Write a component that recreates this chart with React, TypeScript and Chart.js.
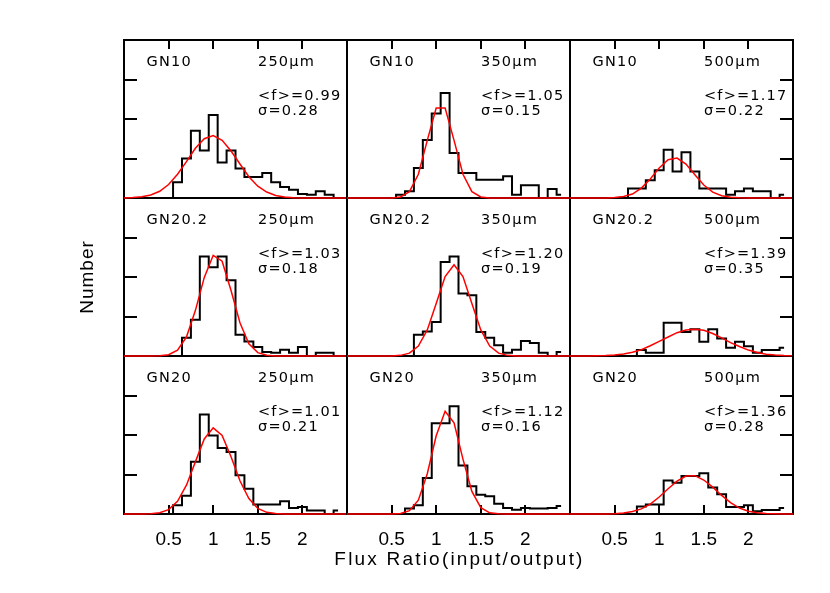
import React, { useEffect, useRef } from 'react';
import { Chart, registerables } from 'chart.js';

Chart.register(...registerables);

// ---------- data ----------
const XS = [0.0, 0.1, 0.2, 0.3, 0.4, 0.5, 0.6, 0.7, 0.8, 0.9, 1.0, 1.1, 1.2, 1.3, 1.4, 1.5, 1.6, 1.7, 1.8, 1.9, 2.0, 2.1, 2.2, 2.3, 2.4, 2.5];
const X_TICKS = [0.5, 1, 1.5, 2];
const Y_TICKS = [10, 20, 30];
const X_MIN = 0;
const X_MAX = 2.5;
const Y_MAX = 40;

const FIELDS = ['GN10', 'GN20.2', 'GN20'];
const BANDS = ['250μm', '350μm', '500μm'];
const MEANS = [
  [0.99, 1.05, 1.17],
  [1.03, 1.2, 1.39],
  [1.01, 1.12, 1.36],
];
const SIGMAS = [
  [0.28, 0.15, 0.22],
  [0.18, 0.19, 0.35],
  [0.21, 0.16, 0.28],
];

// histograms (counts at bin centres XS)
const H_GN10_250 = [0, 0, 0, 0, 0, 0, 4, 10, 17, 12, 21, 9, 12, 7.5, 5.3, 5.3, 6.3, 4, 2.8, 2.1, 1.0, 0.8, 1.7, 0.8, 0, null];
const H_GN10_350 = [0, 0, 0, 0, 0, 0, 0.8, 1.7, 7.6, 14.7, 21.4, 26.6, 11.4, 6.3, 6.3, 4.6, 4.6, 4.6, 5.5, 0.8, 3.2, 3.2, 0, 2.3, 0.8, null];
const H_GN10_500 = [0, 0, 0, 0, 0, 0, 0, 2.4, 2.4, 4.5, 7.0, 12.2, 6.7, 11.6, 6.7, 2.4, 2.4, 2.4, 0.8, 1.7, 2.4, 1.7, 1.7, 0, 0.8, null];
const H_GN202_250 = [0, 0, 0, 0, 0, 0, 0, 4.6, 9.2, 25.2, 22.5, 25.2, 19.2, 5.4, 3.7, 2.3, 1.0, 0.8, 1.6, 0.8, 2.3, 0, 0.8, 0.8, 0, null];
const H_GN202_350 = [0, 0, 0, 0, 0, 0, 0, 0, 5.4, 6.2, 8.6, 23.8, 25.2, 15.8, 15.4, 6.1, 4.6, 2.7, 0.8, 1.6, 3.8, 3.3, 0.8, 0, 1.0, null];
const H_GN202_500 = [0, 0, 0, 0, 0, 0, 0, 0, 1.5, 0.8, 0.8, 8.4, 8.4, 6.1, 6.8, 3.6, 6.8, 4.4, 2.1, 3.6, 2.5, 0.8, 1.5, 1.5, 2.1, null];
const H_GN20_250 = [0, 0, 0, 0, 0, 0, 2.2, 4.6, 13.2, 25.2, 19.9, 16.7, 15.7, 9.8, 6.4, 2.4, 2.4, 2.4, 3.2, 1.5, 1.8, 0.9, 0.9, 0, 0.9, null];
const H_GN20_350 = [0, 0, 0, 0, 0, 0, 0, 1.4, 2.2, 9.1, 23.0, 23.0, 27.3, 12.3, 7.0, 4.9, 4.5, 2.6, 1.5, 1.1, 1.5, 1.4, 1.4, 1.5, 2.0, null];
const H_GN20_500 = [0, 0, 0, 0, 0, 0, 0, 0, 1.9, 2.4, 2.4, 8.5, 7.9, 9.6, 9.6, 10.3, 6.7, 5.0, 1.8, 1.8, 2.2, 0.7, 1.0, 1.0, 1.5, null];

// gaussian fit curves (values read at XS)
const F_GN10_250 = [0.03, 0.1, 0.3, 0.76, 1.7, 3.4, 6.0, 9.2, 12.6, 15.0, 15.8, 14.6, 11.9, 8.6, 5.4, 3.0, 1.5, 0.64, 0.24, 0.08, 0.02, 0, 0, 0, 0, 0];
const F_GN10_350 = [0, 0, 0, 0, 0, 0.03, 0.27, 1.6, 6.0, 14.6, 22.8, 22.8, 14.6, 6.0, 1.6, 0.27, 0.03, 0, 0, 0, 0, 0, 0, 0, 0, 0];
const F_GN10_500 = [0, 0, 0, 0, 0, 0.1, 0.36, 1.0, 2.5, 4.8, 7.6, 9.7, 10.1, 8.6, 5.9, 3.3, 1.5, 0.56, 0.17, 0.04, 0, 0, 0, 0, 0, 0];
const F_GN202_250 = [0, 0, 0, 0, 0.06, 0.34, 1.5, 4.8, 11.5, 19.9, 25.5, 24.0, 16.6, 8.4, 3.1, 0.86, 0.17, 0.03, 0, 0, 0, 0, 0, 0, 0, 0];
const F_GN202_350 = [0, 0, 0, 0, 0, 0.03, 0.16, 0.72, 2.5, 6.6, 13.3, 20.1, 23.1, 20.1, 13.3, 6.6, 2.5, 0.72, 0.16, 0.03, 0, 0, 0, 0, 0, 0];
const F_GN202_500 = [0, 0.01, 0.02, 0.05, 0.12, 0.27, 0.53, 0.97, 1.6, 2.6, 3.7, 4.8, 5.9, 6.6, 6.8, 6.5, 5.7, 4.6, 3.4, 2.4, 1.5, 0.87, 0.47, 0.23, 0.11, 0.04];
const F_GN20_250 = [0, 0, 0.01, 0.07, 0.32, 1.1, 3.2, 7.3, 13.2, 19.0, 21.8, 19.9, 14.5, 8.4, 3.9, 1.4, 0.42, 0.1, 0.02, 0, 0, 0, 0, 0, 0, 0];
const F_GN20_350 = [0, 0, 0, 0, 0, 0.02, 0.13, 0.84, 3.5, 10.2, 19.8, 26.0, 23.1, 13.9, 5.7, 1.6, 0.29, 0.04, 0, 0, 0, 0, 0, 0, 0, 0];
const F_GN20_500 = [0, 0, 0, 0, 0.03, 0.09, 0.25, 0.61, 1.3, 2.5, 4.3, 6.4, 8.3, 9.6, 9.7, 8.6, 6.8, 4.7, 2.9, 1.5, 0.72, 0.3, 0.11, 0.04, 0.01, 0];

const HISTS = [H_GN10_250, H_GN10_350, H_GN10_500, H_GN202_250, H_GN202_350, H_GN202_500, H_GN20_250, H_GN20_350, H_GN20_500];
const FITS = [F_GN10_250, F_GN10_350, F_GN10_500, F_GN202_250, F_GN202_350, F_GN202_500, F_GN20_250, F_GN20_350, F_GN20_500];

const X_TITLE = 'Flux Ratio(input/output)';
const Y_TITLE = 'Number';

// ---------- layout ----------
const COL_LEFT = [124, 347, 570];
const ROW_TOP = [40, 198, 356];
const PW = 223;
const PH = 158;
const M = 60;
const AXIS_H = 40;

function Panel({ row, col }: { row: number; col: number }) {
  const ref = useRef<HTMLCanvasElement>(null);

  useEffect(() => {
    const canvas = ref.current;
    if (!canvas) return;
    const idx = row * 3 + col;
    const hist = HISTS[idx];
    const fit = FITS[idx];
    const bottomRow = row === 2;

    const decor = {
      id: 'decor',
      beforeDatasetsDraw(chart: any) {
        const { ctx, chartArea: a } = chart;
        const xs = chart.scales.x;
        const ys = chart.scales.y;
        ctx.save();
        ctx.strokeStyle = '#000';
        ctx.lineWidth = 2;
        ctx.lineCap = 'butt';
        ctx.beginPath();
        // left + bottom always
        ctx.moveTo(a.left, a.top + (row === 0 ? -1 : 1));
        ctx.lineTo(a.left, a.bottom + 1);
        ctx.moveTo(a.left - 1, a.bottom);
        ctx.lineTo(a.right + 1, a.bottom);
        if (row === 0) {
          ctx.moveTo(a.left - 1, a.top);
          ctx.lineTo(a.right + 1, a.top);
        }
        if (col === 2) {
          ctx.moveTo(a.right, a.top - 1);
          ctx.lineTo(a.right, a.bottom + 1);
        }
        // inward ticks on the outer frame
        if (row === 0) {
          X_TICKS.forEach((v) => {
            const px = Math.round(xs.getPixelForValue(v));
            ctx.moveTo(px, a.top);
            ctx.lineTo(px, a.top + 9);
          });
        }
        if (row === 2) {
          X_TICKS.forEach((v) => {
            const px = Math.round(xs.getPixelForValue(v));
            ctx.moveTo(px, a.bottom);
            ctx.lineTo(px, a.bottom - 9);
          });
        }
        if (col === 0) {
          Y_TICKS.forEach((v) => {
            const py = Math.round(ys.getPixelForValue(v));
            ctx.moveTo(a.left, py);
            ctx.lineTo(a.left + 13, py);
          });
        }
        if (col === 2) {
          Y_TICKS.forEach((v) => {
            const py = Math.round(ys.getPixelForValue(v));
            ctx.moveTo(a.right, py);
            ctx.lineTo(a.right - 13, py);
          });
        }
        ctx.stroke();
        ctx.restore();
      },
      afterDraw(chart: any) {
        const { ctx, chartArea: a } = chart;
        ctx.save();
        ctx.fillStyle = '#000';
        ctx.font = '14.5px "DejaVu Sans", sans-serif';
        ctx.letterSpacing = '1.2px';
        ctx.textAlign = 'left';
        ctx.textBaseline = 'alphabetic';
        ctx.fillText(FIELDS[row], a.left + 22.5, a.top + 26.3);
        ctx.fillText(BANDS[col], a.left + 134, a.top + 26.3);
        ctx.fillText('<f>=' + MEANS[row][col].toFixed(2), a.left + 134, a.top + 59.8);
        ctx.fillText('σ=' + SIGMAS[row][col].toFixed(2), a.left + 134, a.top + 74.8);
        if (row === 2 && col === 1) {
          ctx.font = '19px "Liberation Sans", Arial, sans-serif';
          ctx.letterSpacing = '2.2px';
          ctx.textAlign = 'center';
          ctx.fillText(X_TITLE, (a.left + a.right) / 2 + 1, a.bottom + 51);
        }
        if (row === 1 && col === 0) {
          ctx.font = '19px "Liberation Sans", Arial, sans-serif';
          ctx.letterSpacing = '1px';
          ctx.textAlign = 'center';
          ctx.translate(a.left - 31, (a.top + a.bottom) / 2);
          ctx.rotate(-Math.PI / 2);
          ctx.fillText(Y_TITLE, 0, 0);
        }
        ctx.restore();
      },
    };

    const chart = new Chart(canvas, {
      type: 'line',
      data: {
        datasets: [
          {
            label: 'fit',
            data: XS.map((x, i) => ({ x, y: fit[i] })),
            borderColor: '#ff0000',
            borderWidth: 1.5,
            pointRadius: 0,
            tension: 0,
            fill: false,
            order: 0,
            clip: false,
          },
          {
            label: 'hist',
            data: XS.map((x, i) => ({ x, y: hist[i] })),
            borderColor: '#000000',
            borderWidth: 2,
            pointRadius: 0,
            stepped: 'middle',
            fill: false,
            order: 1,
            clip: false,
            spanGaps: false,
          },
        ],
      } as any,
      options: {
        responsive: false,
        animation: false,
        events: [],
        layout: { padding: { left: M, right: M, top: M, bottom: bottomRow ? M - AXIS_H : M } },
        plugins: { legend: { display: false }, tooltip: { enabled: false } },
        scales: {
          x: {
            type: 'linear',
            min: X_MIN,
            max: X_MAX,
            display: bottomRow,
            grid: { display: false, drawTicks: false },
            border: { display: false },
            afterBuildTicks: (s: any) => {
              s.ticks = X_TICKS.map((v) => ({ value: v }));
            },
            afterFit: (s: any) => {
              s.height = bottomRow ? AXIS_H : 0;
            },
            ticks: {
              color: '#000',
              font: { family: '"Liberation Sans", Arial, sans-serif', size: 19 },
              padding: 14,
              maxRotation: 0,
              autoSkip: false,
              callback: (v: any) => String(v),
            },
          },
          y: {
            type: 'linear',
            min: 0,
            max: Y_MAX,
            display: false,
            afterFit: (s: any) => {
              s.width = 0;
            },
          },
        },
      } as any,
      plugins: [decor],
    });
    return () => chart.destroy();
  }, [row, col]);

  return (
    <canvas
      ref={ref}
      width={PW + 2 * M}
      height={PH + 2 * M}
      style={{ position: 'absolute', left: COL_LEFT[col] - M, top: ROW_TOP[row] - M }}
    />
  );
}

export default function App() {
  const cells: JSX.Element[] = [];
  for (let r = 0; r < 3; r++) {
    for (let c = 0; c < 3; c++) {
      cells.push(<Panel key={`${r}-${c}`} row={r} col={c} />);
    }
  }
  return (
    <div
      style={{
        position: 'fixed',
        left: 0,
        top: 0,
        width: 830,
        height: 593,
        background: '#ffffff',
        overflow: 'hidden',
      }}
    >
      {cells}
    </div>
  );
}
